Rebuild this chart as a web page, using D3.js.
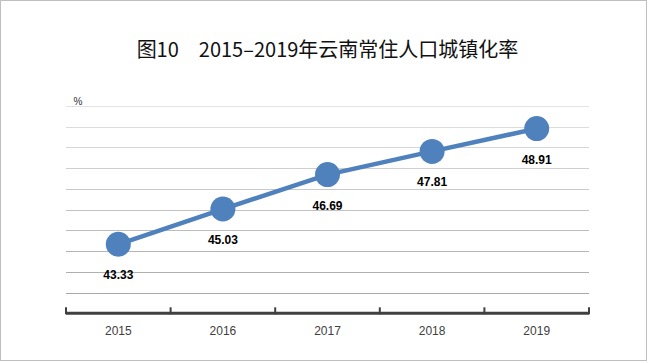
<!DOCTYPE html>
<html><head><meta charset="utf-8">
<script src="https://cdn.jsdelivr.net/npm/d3@7"></script>
<style>
html,body{margin:0;padding:0;background:#fff;}
svg{display:block;}
</style>
</head><body>
<svg id="c" width="650" height="363"></svg>
<script>
const years = ["2015","2016","2017","2018","2019"];
const rates = [43.33, 45.03, 46.69, 47.81, 48.91];
const yTicks = [41,42,43,44,45,46,47,48,49,50];
const title = "图10\u30002015–2019年云南常住人口城镇化率";
const unitLabel = "%";

const svg = d3.select("#c");
svg.append("rect").attr("x",0.5).attr("y",0.5).attr("width",646).attr("height",360)
  .attr("fill","#fff").attr("stroke","#bfbfbf").attr("stroke-width",1);

svg.append("text").attr("x",327.5).attr("y",57).attr("text-anchor","middle")
  .attr("font-family","'Noto Sans CJK SC', sans-serif").attr("font-size",20).attr("font-weight",400)
  .attr("fill","#111").text(title);

const x = d3.scaleBand().domain(years).range([66,589]);
const y = d3.scaleLinear().domain([40,50]).range([313.3,106]);

const gridColor = d3.scaleLinear().domain([50,41]).range(["#e3e3e3","#a8a8a8"]);
svg.append("g").selectAll("line").data(yTicks).join("line")
  .attr("x1",66).attr("x2",589)
  .attr("y1",d=>Math.round(y(d))+0.5).attr("y2",d=>Math.round(y(d))+0.5)
  .attr("stroke",d=>gridColor(d)).attr("stroke-width",1);

svg.append("text").attr("x",78).attr("y",105).attr("text-anchor","middle")
  .attr("font-family","'Liberation Sans', Arial, sans-serif").attr("font-size",10)
  .attr("fill","#333").text(unitLabel);

// x axis
const axisG = svg.append("g").attr("transform",`translate(0,${y(40)})`);
const xAxis = d3.axisBottom(x).tickSize(0).tickPadding(13);
axisG.call(xAxis);
axisG.select(".domain").remove();
axisG.selectAll(".tick text").attr("font-family","'Liberation Sans', Arial, sans-serif")
  .attr("font-size",12).attr("fill","#404040");
axisG.append("line").attr("x1",66).attr("x2",589).attr("y1",0).attr("y2",0)
  .attr("stroke","#404040").attr("stroke-width",3);
const bounds = years.map(d=>x(d)).concat([x(years[years.length-1])+x.bandwidth()]);
axisG.selectAll(".bt").data(bounds).join("line").attr("class","bt")
  .attr("x1",d=>d).attr("x2",d=>d).attr("y1",1).attr("y2",-6)
  .attr("stroke","#404040").attr("stroke-width",2);

const cx = d => x(d) + x.bandwidth()/2;
const pts = years.map((yr,i)=>({yr, v:rates[i]}));
const line = d3.line().x(d=>cx(d.yr)).y(d=>y(d.v));
svg.append("path").datum(pts).attr("d",line).attr("fill","none")
  .attr("stroke","#4f81bd").attr("stroke-width",4.5);
svg.append("g").selectAll("circle").data(pts).join("circle")
  .attr("cx",d=>cx(d.yr)).attr("cy",d=>y(d.v)).attr("r",12.5).attr("fill","#4f81bd");
svg.append("g").selectAll("text").data(pts).join("text")
  .attr("x",d=>cx(d.yr)).attr("y",d=>y(d.v)+35).attr("text-anchor","middle")
  .attr("font-family","'Liberation Sans', Arial, sans-serif").attr("font-size",12).attr("font-weight","bold")
  .attr("fill","#000").text(d=>d.v.toFixed(2));
</script>
</body></html>
